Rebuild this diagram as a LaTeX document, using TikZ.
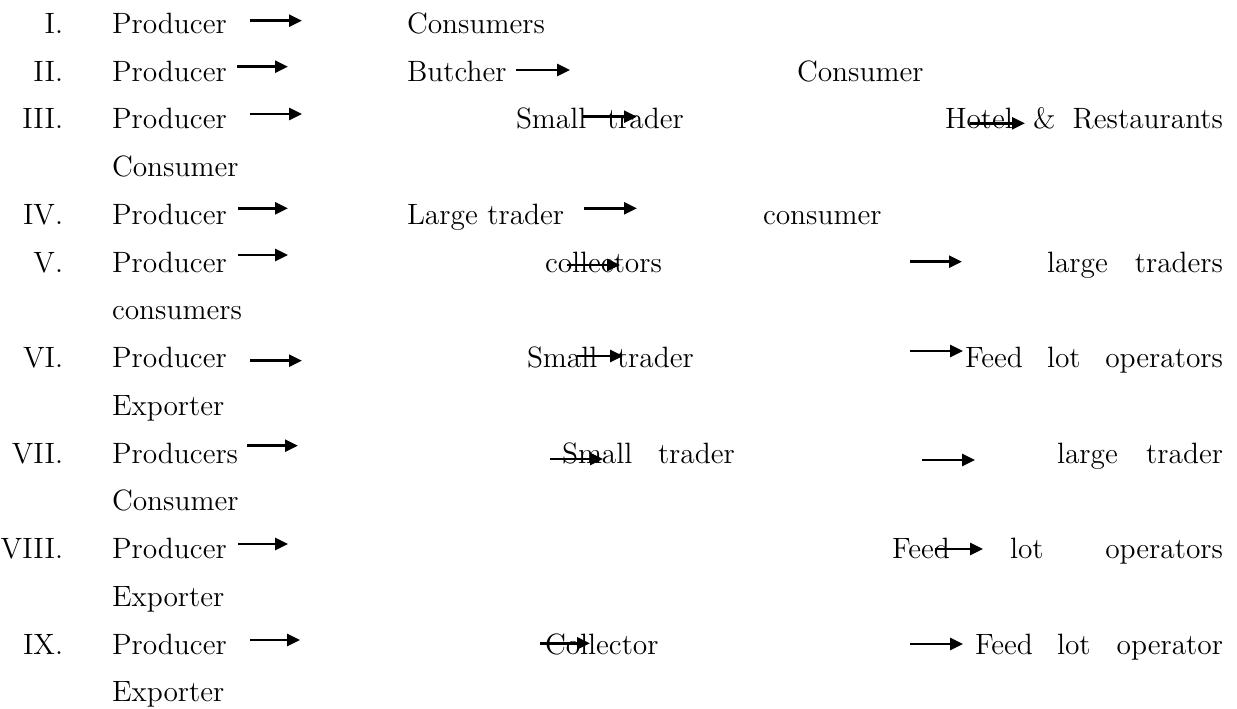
\documentclass[tikz,border=0pt]{standalone}
\usepackage{tikz}
\usepackage{xcolor}
\usetikzlibrary{arrows.meta}
\definecolor{inkColor}{RGB}{0, 0, 0}

\begin{document}
\begin{tikzpicture}[x=0.5pt, y=-0.5pt,
    word/.style={inner sep=0pt, outer sep=0pt, anchor=base west, text=inkColor, font=\fontsize{14.7}{17}\selectfont},
    num/.style={word, anchor=base east},
    lastword/.style={word, anchor=base east},
    flow/.style={-{Triangle[length=6.5pt, width=6pt]}, line width=1.35pt, inkColor}]
                \useasboundingbox (0,0) rectangle (1237,708);
                % I.
                \node[num] (n1) at (63,33.3) {I.};
                \node[word] (p1) at (112,33.3) {Producer};
                \node[word] (c1) at (407,33.3) {Consumers};
                % II.
                \node[num] (n2) at (63,81.1) {II.};
                \node[word] (p2) at (112,81.1) {Producer};
                \node[word] (b2) at (407,81.1) {Butcher};
                \node[word] (c2) at (797,81.1) {Consumer};
                % III.
                \node[num] (n3) at (63,128.8) {III.};
                \node[word] (p3) at (112,128.8) {Producer};
                \node[word] (s3) at (516,128.8) {Small};
                \node[word] (t3) at (607,128.8) {trader};
                \node[word] (h3) at (945,128.8) {Hotel};
                \node[word] (amp3) at (1033,128.8) {\&};
                \node[lastword] (r3) at (1223,128.8) {Restaurants};
                \node[word] (c3) at (112,176.6) {Consumer};
                % IV.
                \node[num] (n4) at (63,224.3) {IV.};
                \node[word] (p4) at (112,224.3) {Producer};
                \node[word] (l4) at (407,224.3) {Large trader};
                \node[word] (c4) at (763,224.3) {consumer};
                % V.
                \node[num] (n5) at (63,272.1) {V.};
                \node[word] (p5) at (112,272.1) {Producer};
                \node[word] (k5) at (545,272.1) {collectors};
                \node[word] (l5) at (1047,272.1) {large};
                \node[lastword] (t5) at (1223,272.1) {traders};
                \node[word] (c5) at (112,319.8) {consumers};
                % VI.
                \node[num] (n6) at (63,367.6) {VI.};
                \node[word] (p6) at (112,367.6) {Producer};
                \node[word] (s6) at (527,367.6) {Small};
                \node[word] (t6) at (617,367.6) {trader};
                \node[word] (f6) at (965,367.6) {Feed};
                \node[word] (lot6) at (1047,367.6) {lot};
                \node[lastword] (o6) at (1223,367.6) {operators};
                \node[word] (e6) at (112,415.3) {Exporter};
                % VII.
                \node[num] (n7) at (63,463.1) {VII.};
                \node[word] (p7) at (112,463.1) {Producers};
                \node[word] (s7) at (562,463.1) {Small};
                \node[word] (t7) at (658,463.1) {trader};
                \node[word] (l7) at (1057,463.1) {large};
                \node[lastword] (g7) at (1223,463.1) {trader};
                \node[word] (c7) at (112,510.8) {Consumer};
                % VIII.
                \node[num] (n8) at (63,558.6) {VIII.};
                \node[word] (p8) at (112,558.6) {Producer};
                \node[word] (f8) at (892,558.6) {Feed};
                \node[word] (lot8) at (1010,558.6) {lot};
                \node[lastword] (o8) at (1223,558.6) {operators};
                \node[word] (e8) at (112,606.3) {Exporter};
                % IX.
                \node[num] (n9) at (63,654.1) {IX.};
                \node[word] (p9) at (112,654.1) {Producer};
                \node[word] (k9) at (545,654.1) {Collector};
                \node[word] (f9) at (975,654.1) {Feed};
                \node[word] (lot9) at (1057,654.1) {lot};
                \node[lastword] (o9) at (1223,654.1) {operator};
                \node[word] (e9) at (112,701.8) {Exporter};

                % arrow ends
                \coordinate (a1) at (250,20.7);  \coordinate (z1) at (302,20.7);
                \coordinate (a2) at (237,66.7);  \coordinate (z2) at (288,66.7);
                \coordinate (a2b) at (516,70);   \coordinate (z2b) at (570,70);
                \coordinate (a3) at (250,114);   \coordinate (z3) at (302,114);
                \coordinate (a3b) at (583,116.7); \coordinate (z3b) at (637,116.7);
                \coordinate (a3c) at (970,123.3); \coordinate (z3c) at (1025,123.3);
                \coordinate (a4) at (238,208.3); \coordinate (z4) at (288,208.3);
                \coordinate (a4b) at (584,208.3); \coordinate (z4b) at (637,208.3);
                \coordinate (a5) at (238,255);   \coordinate (z5) at (288,255);
                \coordinate (a5b) at (567,265);  \coordinate (z5b) at (620,265);
                \coordinate (a5c) at (910,261.7); \coordinate (z5c) at (962,261.7);
                \coordinate (a6) at (250,360.7); \coordinate (z6) at (302,360.7);
                \coordinate (a6b) at (577,356);  \coordinate (z6b) at (623,356);
                \coordinate (a6c) at (910,351);  \coordinate (z6c) at (963,351);
                \coordinate (a7) at (247,445.7); \coordinate (z7) at (298,445.7);
                \coordinate (a7b) at (550,459);  \coordinate (z7b) at (603,459);
                \coordinate (a7c) at (922,460);  \coordinate (z7c) at (975,460);
                \coordinate (a8) at (238,544);   \coordinate (z8) at (288,544);
                \coordinate (a8b) at (935,549);  \coordinate (z8b) at (983,549);
                \coordinate (a9) at (250,640);   \coordinate (z9) at (300,640);
                \coordinate (a9b) at (540,643.3); \coordinate (z9b) at (590,643.3);
                \coordinate (a9c) at (910,644);  \coordinate (z9c) at (963,644);

                \draw[flow] (a1) -- (z1);
                \draw[flow] (a2) -- (z2);
                \draw[flow] (a2b) -- (z2b);
                \draw[flow] (a3) -- (z3);
                \draw[flow] (a3b) -- (z3b);
                \draw[flow] (a3c) -- (z3c);
                \draw[flow] (a4) -- (z4);
                \draw[flow] (a4b) -- (z4b);
                \draw[flow] (a5) -- (z5);
                \draw[flow] (a5b) -- (z5b);
                \draw[flow] (a5c) -- (z5c);
                \draw[flow] (a6) -- (z6);
                \draw[flow] (a6b) -- (z6b);
                \draw[flow] (a6c) -- (z6c);
                \draw[flow] (a7) -- (z7);
                \draw[flow] (a7b) -- (z7b);
                \draw[flow] (a7c) -- (z7c);
                \draw[flow] (a8) -- (z8);
                \draw[flow] (a8b) -- (z8b);
                \draw[flow] (a9) -- (z9);
                \draw[flow] (a9b) -- (z9b);
                \draw[flow] (a9c) -- (z9c);
            \end{tikzpicture}
\end{document}
